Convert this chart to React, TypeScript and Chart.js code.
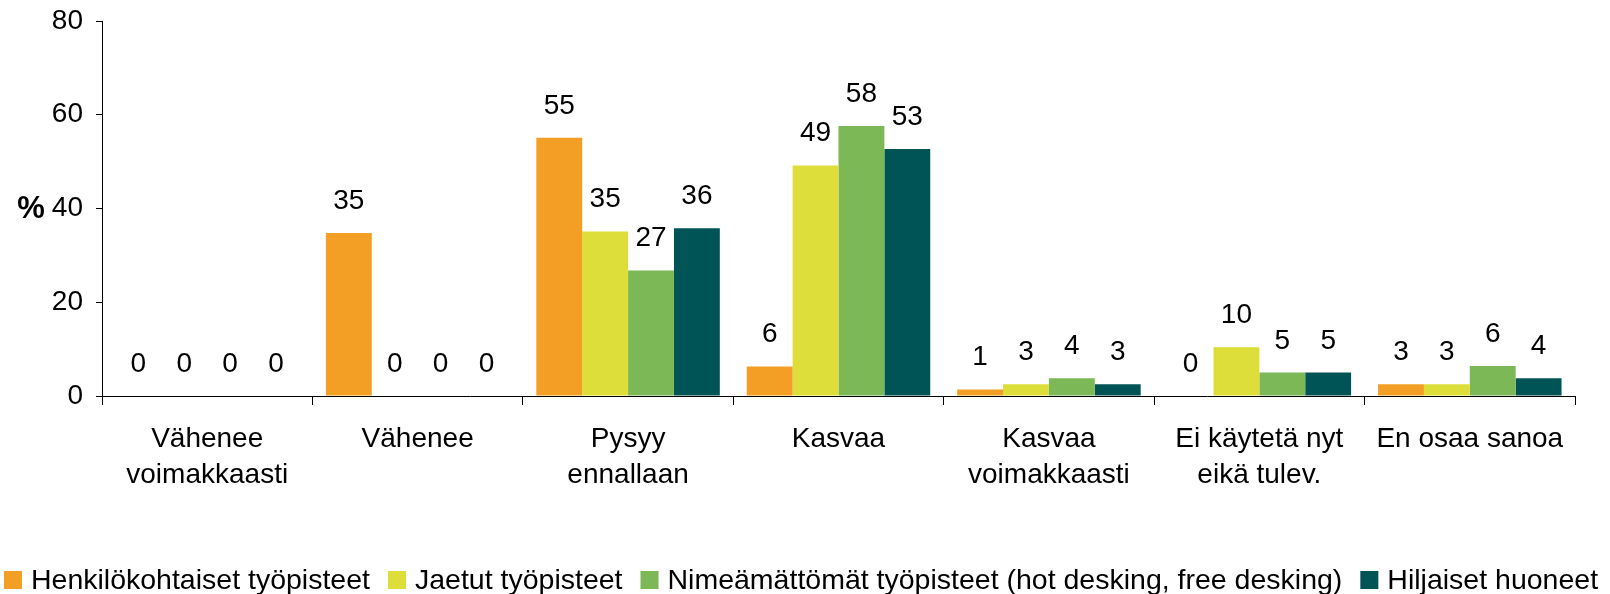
import React, { useEffect, useRef } from "react";
import { Chart, registerables } from "chart.js";

Chart.register(...registerables);

const categories: (string | string[])[] = [
  ["Vähenee", "voimakkaasti"],
  "Vähenee",
  ["Pysyy", "ennallaan"],
  "Kasvaa",
  ["Kasvaa", "voimakkaasti"],
  ["Ei käytetä nyt", "eikä tulev."],
  "En osaa sanoa",
];

const seriesNames = [
  "Henkilökohtaiset työpisteet",
  "Jaetut työpisteet",
  "Nimeämättömät työpisteet (hot desking, free desking)",
  "Hiljaiset huoneet",
];

const henkilokohtaiset = [0, 34.8, 55.1, 6.3, 1.4, 0, 2.5];
const jaetut = [0, 0, 35.1, 49.2, 2.5, 10.4, 2.5];
const nimeamattomat = [0, 0, 26.8, 57.6, 3.8, 5.0, 6.4];
const hiljaiset = [0, 0, 35.8, 52.7, 2.5, 5.0, 3.8];

const yTicks = [0, 20, 40, 60, 80];
const yTitle = "%";

const colors = ["#F39E25", "#DEDE3A", "#7DB856", "#005455"];

const FONT = "'Liberation Sans', Arial, Helvetica, sans-serif";

const valueLabels = {
  id: "valueLabels",
  afterDatasetsDraw(chart: any) {
    const ctx = chart.ctx;
    ctx.save();
    ctx.font = `28px ${FONT}`;
    ctx.fillStyle = "#000";
    ctx.textAlign = "center";
    ctx.textBaseline = "alphabetic";
    chart.data.datasets.forEach((ds: any, di: number) => {
      const meta = chart.getDatasetMeta(di);
      meta.data.forEach((el: any, i: number) => {
        const v = ds.data[i];
        ctx.fillText(String(Math.round(v)), el.x, el.y - 24);
      });
    });
    ctx.restore();
  },
};

const percentTitle = {
  id: "percentTitle",
  afterDraw(chart: any) {
    const ctx = chart.ctx;
    const y = chart.scales.y.getPixelForValue(40);
    ctx.save();
    ctx.font = `bold 31px ${FONT}`;
    ctx.fillStyle = "#000";
    ctx.textAlign = "center";
    ctx.textBaseline = "middle";
    ctx.fillText(yTitle, 31, y + 1);
    ctx.restore();
  },
};

// Legend drawn on the canvas: box, 9px gap, label, 18px gap to next box
const bottomLegend = {
  id: "bottomLegend",
  afterDraw(chart: any) {
    const ctx = chart.ctx;
    const box = 18;
    const gapText = 9;
    const gapItem = 18;
    const cy = 580;
    ctx.save();
    ctx.font = `28.5px ${FONT}`;
    ctx.textBaseline = "middle";
    ctx.textAlign = "left";
    const items = chart.data.datasets.map((ds: any) => ({
      text: ds.label,
      color: ds.backgroundColor,
      w: ctx.measureText(ds.label).width,
    }));
    const total =
      items.reduce((s: number, it: any) => s + box + gapText + it.w, 0) +
      gapItem * (items.length - 1);
    let x = (chart.width - total) / 2 - 4;
    items.forEach((it: any) => {
      ctx.fillStyle = it.color;
      ctx.fillRect(x, cy - box / 2, box, box);
      ctx.fillStyle = "#000";
      ctx.fillText(it.text, x + box + gapText, cy + 1);
      x += box + gapText + it.w + gapItem;
    });
    ctx.restore();
  },
};

export default function App() {
  const ref = useRef<HTMLCanvasElement | null>(null);

  useEffect(() => {
    if (!ref.current) return;
    Chart.defaults.font.family = FONT;
    const seriesData = [henkilokohtaiset, jaetut, nimeamattomat, hiljaiset];
    const chart = new Chart(ref.current, {
      type: "bar",
      data: {
        labels: categories,
        datasets: seriesData.map((d, i) => ({
          label: seriesNames[i],
          data: d,
          backgroundColor: colors[i],
          borderWidth: 0,
          categoryPercentage: 0.872,
          barPercentage: 1.0,
        })),
      },
      options: {
        animation: false,
        responsive: true,
        maintainAspectRatio: false,
        layout: { padding: { top: 21, left: 0, right: 0, bottom: 0 } },
        plugins: {
          tooltip: { enabled: false },
          legend: { display: false },
        },
        scales: {
          x: {
            grid: {
              display: true,
              drawOnChartArea: false,
              drawTicks: true,
              tickLength: 9,
              color: "#000",
              offset: true,
            },
            border: { display: true, color: "#000", width: 1 },
            ticks: {
              color: "#000",
              font: { size: 28, family: FONT, lineHeight: 1.286 },
              padding: 16,
              maxRotation: 0,
              autoSkip: false,
            },
            afterFit: (s: any) => {
              s.height = 198;
              s.paddingLeft = 0;
              s.paddingRight = 0;
            },
          },
          y: {
            min: 0,
            max: 80,
            afterBuildTicks: (s: any) => {
              s.ticks = yTicks.map((v) => ({ value: v }));
            },
            grid: {
              display: true,
              drawOnChartArea: false,
              drawTicks: true,
              tickLength: 6,
              color: "#000",
            },
            border: { display: true, color: "#000", width: 1 },
            ticks: {
              color: "#000",
              font: { size: 28, family: FONT },
              padding: 13,
            },
            afterFit: (s: any) => {
              s.width = 102;
              s.paddingTop = 0;
              s.paddingBottom = 0;
            },
          },
          yR: {
            position: "right",
            display: true,
            grid: { display: false, drawTicks: false },
            border: { display: false },
            ticks: { display: false },
            afterFit: (s: any) => {
              s.width = 35;
              s.paddingTop = 0;
              s.paddingBottom = 0;
            },
          },
        },
      },
      plugins: [valueLabels, percentTitle, bottomLegend],
    });
    return () => chart.destroy();
  }, []);

  return (
    <div style={{ position: "absolute", left: 0, top: 0, width: 1610, height: 594 }}>
      <canvas ref={ref} />
    </div>
  );
}
